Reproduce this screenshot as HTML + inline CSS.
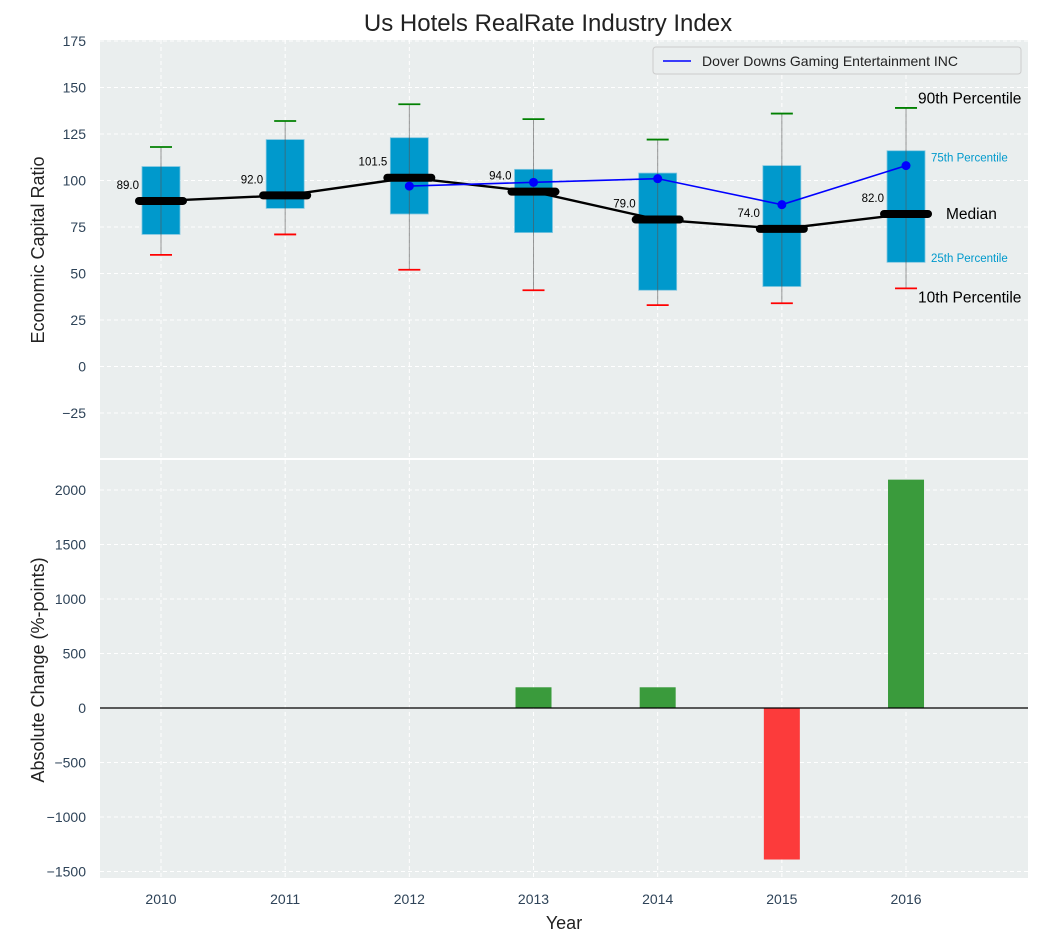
<!DOCTYPE html>
<html><head><meta charset="utf-8"><style>
body{margin:0;background:#fff;}
svg{display:block;font-family:"Liberation Sans","DejaVu Sans",sans-serif;}
</style></head><body>
<svg id="chart" width="1053" height="942"></svg>
<script>
const years=["2010","2011","2012","2013","2014","2015","2016"];
const p10=[60,71,52,41,33,34,42];
const q1=[71,85,82,72,41,43,56];
const medians=[89,92,101.5,94,79,74,82];
const q3=[107.5,122,123,106,104,108,116];
const p90=[118,132,141,133,122,136,139];
const companyYears=[2,3,4,5,6];
const companyVals=[97,99,101,87,108];
const changes=[0,0,0,190,190,-1390,2095];
const topTicks=[-25,0,25,50,75,100,125,150,175];
const botTicks=[-1500,-1000,-500,0,500,1000,1500,2000];

const NS="http://www.w3.org/2000/svg";
const svg=document.getElementById('chart');
function el(t,a,p){const e=document.createElementNS(NS,t);for(const k in a)e.setAttribute(k,a[k]);(p||svg).appendChild(e);return e;}
const L=100,R=1028;
const x=i=>161+i*124.17;
const yT=v=>366.5-v*(46.5/25);
const yB=v=>708-v*0.109;

let bg=el('rect',{x:L,y:40,width:R-L,height:418,fill:'#eaeeee'});

let bg2=el('rect',{x:L,y:460,width:R-L,height:418,fill:'#eaeeee'});


const grid=el('g',{});

years.forEach((y,i)=>{
 el('line',{x1:x(i),x2:x(i),y1:40,y2:458,stroke:'#fff','stroke-dasharray':'4,3'},grid);
 el('line',{x1:x(i),x2:x(i),y1:460,y2:878,stroke:'#fff','stroke-dasharray':'4,3'},grid);
});
topTicks.forEach(v=>{
 el('line',{x1:L,x2:R,y1:yT(v),y2:yT(v),stroke:'#fff','stroke-dasharray':'4,3'},grid);
 const t=el('text',{x:86,y:yT(v)+5,'text-anchor':'end','font-size':14,fill:'#2e4358'});
 t.textContent=v<0?'\u2212'+Math.abs(v):v;
 
});
botTicks.forEach(v=>{
 el('line',{x1:L,x2:R,y1:yB(v),y2:yB(v),stroke:'#fff','stroke-dasharray':'4,3'},grid);
 const t=el('text',{x:86,y:yB(v)+5,'text-anchor':'end','font-size':14,fill:'#2e4358'});
 t.textContent=v<0?'\u2212'+Math.abs(v):v;
 
});

years.forEach((yr,i)=>{
 const g=el('g',{});
 
 el('rect',{x:x(i)-19,y:yT(q3[i]),width:38,height:yT(q1[i])-yT(q3[i]),fill:'#0099cc',stroke:'#7fc6e0','stroke-width':0.8},g);
 el('line',{x1:x(i),x2:x(i),y1:yT(p90[i]),y2:yT(p10[i]),stroke:'#555','stroke-opacity':0.6,'stroke-width':1},g);
 el('line',{x1:x(i)-11,x2:x(i)+11,y1:yT(p90[i]),y2:yT(p90[i]),stroke:'green','stroke-width':1.8},g);
 el('line',{x1:x(i)-11,x2:x(i)+11,y1:yT(p10[i]),y2:yT(p10[i]),stroke:'red','stroke-width':1.8},g);
 const lab=el('text',{x:x(i)-22,y:yT(medians[i])-12,'text-anchor':'end','font-size':11.5,fill:'#000'},g);
 lab.textContent=medians[i].toFixed(1);
});
const ml=el('polyline',{points:medians.map((m,i)=>x(i)+','+yT(m)).join(' '),fill:'none',stroke:'#000','stroke-width':2.4});

medians.forEach((m,i)=>{
 const s=el('line',{x1:x(i)-22,x2:x(i)+22,y1:yT(m),y2:yT(m),stroke:'#000','stroke-width':8,'stroke-linecap':'round'});
 
});
const cl=el('polyline',{points:companyYears.map((c,k)=>x(c)+','+yT(companyVals[k])).join(' '),fill:'none',stroke:'blue','stroke-width':1.6});

companyYears.forEach((c,k)=>{
 const p=el('circle',{cx:x(c),cy:yT(companyVals[k]),r:4.5,fill:'blue'});
 
});
const li=6;
[[p90[li]+5,'90th Percentile',15.5,'#000',12],[q3[li]-3,'75th Percentile',11.5,'#0099cc',25],[medians[li],'Median',15.5,'#000',40],[q1[li]+3,'25th Percentile',11.5,'#0099cc',25],[p10[li]-5,'10th Percentile',15.5,'#000',12]].forEach(a=>{
 const t=el('text',{x:x(li)+a[4],y:yT(a[0])+5,'font-size':a[2],fill:a[3]});
 t.textContent=a[1];
 
});
years.forEach((yr,i)=>{
 if(!changes[i])return;
 const v=changes[i];
 const b=el('rect',{x:x(i)-18,y:Math.min(yB(0),yB(v)),width:36,height:Math.abs(yB(v)-yB(0)),fill:v>0?'#3a9b3c':'#fc3b3b'});
 
});
el('line',{x1:L,x2:R,y1:yB(0),y2:yB(0),stroke:'#000','stroke-width':1.2});
years.forEach((yr,i)=>{
 const t=el('text',{x:x(i),y:904,'text-anchor':'middle','font-size':14,fill:'#2e4358'});
 t.textContent=yr;
});
const lg=el('g',{});

el('rect',{x:653,y:47,width:368,height:27,rx:3,fill:'#eaeeee',stroke:'#ccc'},lg);
el('line',{x1:663,x2:691,y1:61,y2:61,stroke:'blue','stroke-width':1.6},lg);
const lt=el('text',{x:702,y:66,'font-size':14,fill:'#222'},lg);lt.textContent='Dover Downs Gaming Entertainment INC';
let t=el('text',{x:548,y:31,'text-anchor':'middle','font-size':24,fill:'#222'});t.textContent='Us Hotels RealRate Industry Index';

t=el('text',{x:564,y:929,'text-anchor':'middle','font-size':18,fill:'#222'});t.textContent='Year';

t=el('text',{x:0,y:0,'text-anchor':'middle','font-size':18,fill:'#222',transform:'translate(44,250) rotate(-90)'});t.textContent='Economic Capital Ratio';

t=el('text',{x:0,y:0,'text-anchor':'middle','font-size':18,fill:'#222',transform:'translate(44,670) rotate(-90)'});t.textContent='Absolute Change (%-points)';

</script>
</body></html>
